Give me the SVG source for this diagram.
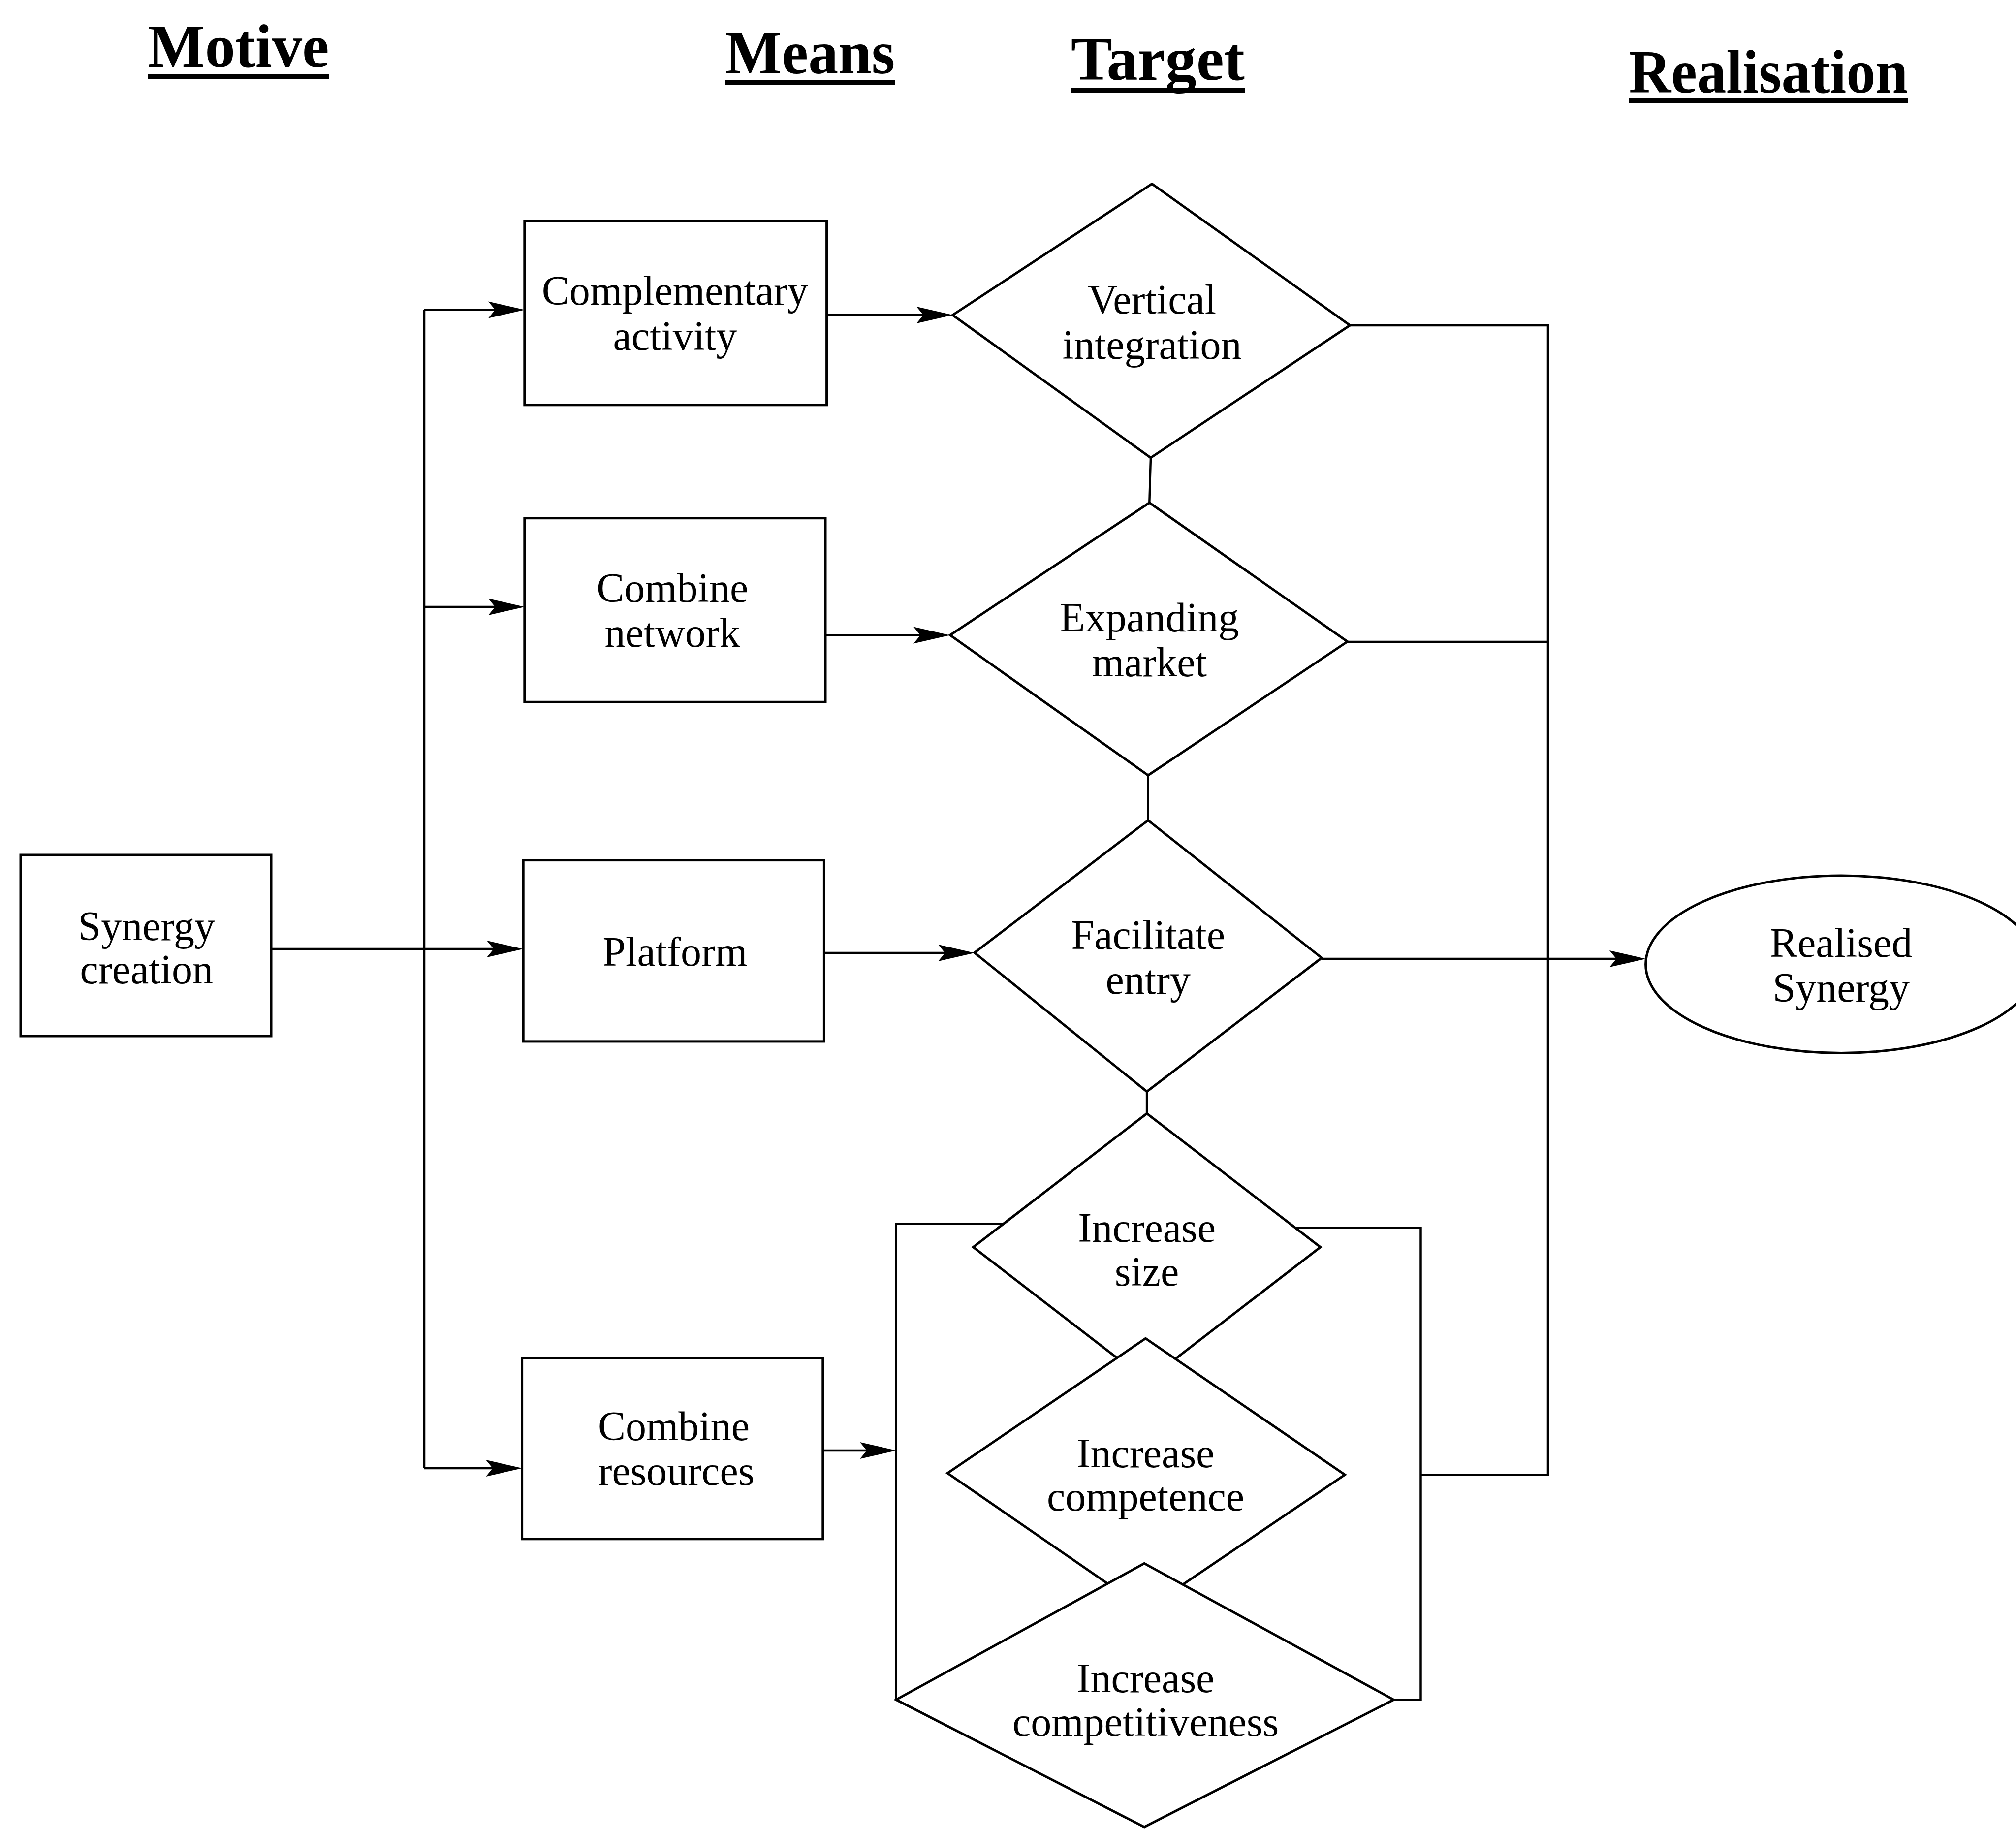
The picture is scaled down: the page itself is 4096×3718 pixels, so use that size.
<svg xmlns="http://www.w3.org/2000/svg" width="4096" height="3718" viewBox="0 0 4096 3718">
<style>
.bg{fill:#fff}
.shape{fill:#fff;stroke:#000;stroke-width:5;stroke-linejoin:miter}
.conn{fill:none;stroke:#000;stroke-width:4.5}
.lbl{font-family:"Liberation Serif","Times New Roman",serif;font-size:84px;fill:#000;text-anchor:middle}
.hdr{font-family:"Liberation Serif","Times New Roman",serif;font-size:125px;font-weight:bold;fill:#000;text-anchor:middle}
.ul{stroke:#000;stroke-width:10}
</style>
<defs>
<marker id="arr" markerUnits="userSpaceOnUse" markerWidth="90" markerHeight="40" viewBox="-76 -20 90 40" refX="-12" refY="0" orient="auto">
<path d="M0,0 L-74,-17 L-60,0 L-74,17 Z" fill="#000"/>
</marker>
</defs>
<rect class="bg" x="0" y="0" width="4096" height="3718"/>

<g id="headers">
<text class="hdr" x="484.6" y="136" textLength="368" lengthAdjust="spacingAndGlyphs">Motive</text>
<line class="ul" x1="300" y1="155" x2="669" y2="155"/>
<text class="hdr" x="1645.7" y="149" textLength="345" lengthAdjust="spacingAndGlyphs">Means</text>
<line class="ul" x1="1473" y1="167" x2="1818" y2="167"/>
<text class="hdr" x="2352.3" y="162" textLength="353" lengthAdjust="spacingAndGlyphs">Target</text>
<line class="ul" x1="2176" y1="184" x2="2529" y2="184"/>
<text class="hdr" x="3593.1" y="188" textLength="567" lengthAdjust="spacingAndGlyphs">Realisation</text>
<line class="ul" x1="3310" y1="205" x2="3877" y2="205"/>
</g>

<g id="connectors">
<path class="conn" d="M862,629.5 V2983"/>
<path class="conn" d="M862,629.5 H1054" marker-end="url(#arr)"/>
<path class="conn" d="M862,1233 H1054" marker-end="url(#arr)"/>
<path class="conn" d="M862,2983 H1049" marker-end="url(#arr)"/>
<path class="conn" d="M551,1928 H1051" marker-end="url(#arr)"/>
<path class="conn" d="M1679.6,640 H1924" marker-end="url(#arr)"/>
<path class="conn" d="M1677,1290.4 H1918" marker-end="url(#arr)"/>
<path class="conn" d="M1674.4,1936 H1968" marker-end="url(#arr)"/>
<path class="conn" d="M1671.8,2947 H1809" marker-end="url(#arr)"/>
<path class="conn" d="M2685,1948 H3332" marker-end="url(#arr)"/>
<path class="conn" d="M2338,930 L2335.3,1021.4"/>
<path class="conn" d="M2332.7,1575.2 V1666.6"/>
<path class="conn" d="M2330.1,2217.8 V2262.2"/>
<path class="conn" d="M2742.8,660.9 H3145 V2996.2 H2886.5"/>
<path class="conn" d="M2737.6,1304 H3145"/>
<path class="conn" d="M2038,2486.8 H1820.7 V3453.3"/>
<path class="conn" d="M2632,2494.7 H2886.5 V3453.3 H2831.6"/>
</g>

<g id="node-synergy-creation">
<rect class="shape" x="42" y="1737" width="509" height="368"/>
<text class="lbl" x="297.8" y="1909.5">Synergy</text>
<text class="lbl" x="297.8" y="1998.3">creation</text>
</g>

<g id="node-complementary-activity">
<rect class="shape" x="1065.8" y="449.3" width="613.8" height="373.5"/>
<text class="lbl" x="1371.4" y="619.1">Complementary</text>
<text class="lbl" x="1371.4" y="710.5">activity</text>
</g>

<g id="node-combine-network">
<rect class="shape" x="1065.8" y="1052.7" width="611.2" height="373.6"/>
<text class="lbl" x="1366.2" y="1222.5">Combine</text>
<text class="lbl" x="1366.2" y="1313.9">network</text>
</g>

<g id="node-platform">
<rect class="shape" x="1063.2" y="1747.6" width="611.2" height="368.3"/>
<text class="lbl" x="1371.4" y="1961.8">Platform</text>
</g>

<g id="node-combine-resources">
<rect class="shape" x="1060.6" y="2758.5" width="611.2" height="368.3"/>
<text class="lbl" x="1369" y="2925.7">Combine</text>
<text class="lbl" x="1374" y="3017.1">resources</text>
</g>

<g id="node-vertical-integration">
<polygon class="shape" points="2340.5,373.5 2742.8,660.9 2337.9,930 1935.6,640"/>
<text class="lbl" x="2340.5" y="637.4">Vertical</text>
<text class="lbl" x="2340.5" y="728.8">integration</text>
</g>

<g id="node-expanding-market">
<polygon class="shape" points="2335.3,1021.4 2737.6,1303.5 2332.7,1575.2 1930.4,1290.4"/>
<text class="lbl" x="2335.3" y="1282.6">Expanding</text>
<text class="lbl" x="2335.3" y="1374">market</text>
</g>

<g id="node-facilitate-entry">
<polygon class="shape" points="2332.7,1666.6 2685.3,1946.1 2330.1,2217.8 1980,1935.6"/>
<text class="lbl" x="2332.7" y="1927.8">Facilitate</text>
<text class="lbl" x="2332.7" y="2019.2">entry</text>
</g>

<g id="node-increase-size">
<polygon class="shape" points="2330.1,2262.2 2682.7,2533.8 2330.1,2805.5 1977.4,2533.8"/>
<text class="lbl" x="2330.1" y="2523.4">Increase</text>
<text class="lbl" x="2330.1" y="2612.2">size</text>
</g>

<g id="node-increase-competence">
<polygon class="shape" points="2327.5,2719.3 2732.4,2996.2 2327.5,3270.5 1925.2,2993"/>
<text class="lbl" x="2327.5" y="2980.5">Increase</text>
<text class="lbl" x="2327.5" y="3069.3">competence</text>
</g>

<g id="node-increase-competitiveness">
<polygon class="shape" points="2324.9,3176.4 2831.6,3453.3 2324.9,3712 1820.7,3453.3"/>
<text class="lbl" x="2327.5" y="3437.7">Increase</text>
<text class="lbl" x="2327.5" y="3526.5">competitiveness</text>
</g>

<g id="node-realised-synergy">
<ellipse class="shape" cx="3740.7" cy="1959.2" rx="397.1" ry="180.2"/>
<text class="lbl" x="3740.7" y="1943.5">Realised</text>
<text class="lbl" x="3740.7" y="2034.9">Synergy</text>
</g>
</svg>
